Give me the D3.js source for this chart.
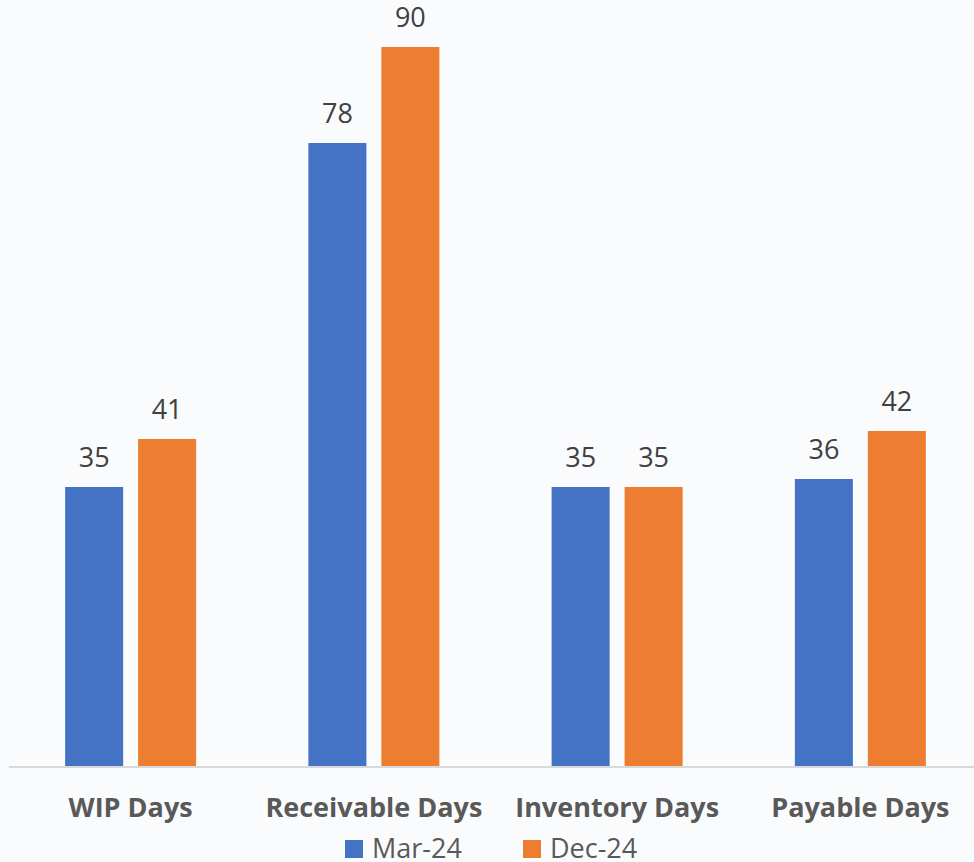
<!DOCTYPE html>
<html>
<head>
<meta charset="utf-8">
<script src="https://cdn.jsdelivr.net/npm/d3@7"></script>
<style>
  html, body { margin: 0; padding: 0; background: #fafbfc; }
  svg { display: block; }
</style>
</head>
<body>
<div id="chart"></div>
<script>
// Working-capital cycle metrics (days), two periods
const categories = ["WIP Days", "Receivable Days", "Inventory Days", "Payable Days"];
const seriesNames = ["Mar-24", "Dec-24"];
const mar24 = [35, 78, 35, 36];
const dec24 = [41, 90, 35, 42];
const seriesColors = ["#4472C4", "#ED7D31"];

const width = 974, height = 862;
const plot = { left: 9, right: 982, top: 0, bottom: 767 };

const svg = d3.select("#chart").append("svg")
  .attr("width", width).attr("height", height);

// soft background
svg.append("rect").attr("width", width).attr("height", height).attr("fill", "#fafbfc");

const groupWidth = 131;
const x0 = d3.scaleBand().domain(categories).range([plot.left, plot.right]).paddingInner(0).paddingOuter(0);
const x1 = d3.scaleBand().domain(seriesNames).range([0, groupWidth]).paddingInner(0.205);
const y = d3.scaleLinear().domain([0, 90]).range([plot.bottom, plot.bottom - 720]);

const rows = categories.map((c, i) => ({ cat: c, vals: [mar24[i], dec24[i]] }));

const groups = svg.append("g").selectAll("g").data(rows).join("g")
  .attr("transform", d => `translate(${x0(d.cat) + x0.bandwidth() / 2 - groupWidth / 2},0)`);

groups.selectAll("rect").data(d => d.vals.map((v, j) => ({ s: seriesNames[j], v, j })))
  .join("rect")
  .attr("x", d => x1(d.s))
  .attr("y", d => y(d.v))
  .attr("width", x1.bandwidth())
  .attr("height", d => y(0) - y(d.v))
  .attr("fill", d => seriesColors[d.j]);

groups.selectAll("text.val").data(d => d.vals.map((v, j) => ({ s: seriesNames[j], v, j })))
  .join("text")
  .attr("class", "val")
  .attr("x", d => x1(d.s) + x1.bandwidth() / 2)
  .attr("y", d => y(d.v) - 20)
  .attr("text-anchor", "middle")
  .attr("font-family", "Open Sans, sans-serif")
  .attr("font-size", 27)
  .attr("fill", "#404040")
  .text(d => d.v);

// baseline axis
const xAxis = d3.axisBottom(x0).tickSize(0).tickPadding(0);
const axisG = svg.append("g").attr("transform", `translate(0,${plot.bottom})`).call(xAxis);
axisG.select(".domain").remove();
axisG.append("line")
  .attr("x1", plot.left).attr("x2", width)
  .attr("y1", 0).attr("y2", 0)
  .attr("stroke", "#d9d9d9").attr("stroke-width", 2);
axisG.selectAll(".tick text")
  .attr("y", 50)
  .attr("dy", 0)
  .attr("font-family", "Open Sans, sans-serif")
  .attr("font-weight", "bold")
  .attr("font-size", 27)
  .attr("fill", "#595959");

// legend
const legendX = [345, 523];
const legend = svg.append("g").selectAll("g").data(seriesNames).join("g")
  .attr("transform", (d, i) => `translate(${legendX[i]},840)`);
legend.append("rect").attr("width", 18).attr("height", 18)
  .attr("fill", (d, i) => seriesColors[i]);
legend.append("text").attr("x", 27).attr("y", 18)
  .attr("font-family", "Open Sans, sans-serif")
  .attr("font-size", 27)
  .attr("fill", "#595959")
  .text(d => d);
</script>
</body>
</html>
